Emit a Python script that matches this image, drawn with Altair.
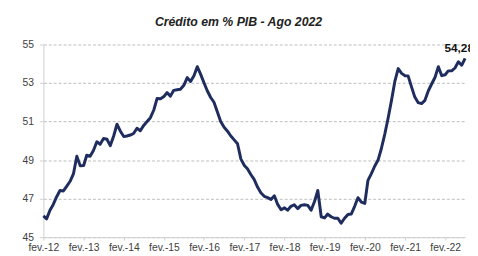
import altair as alt
import pandas as pd

# Crédito em % do PIB, mensal, fev/2012 a ago/2022
credit_values = [
    46.1, 45.95, 46.4, 46.7, 47.1, 47.42, 47.4, 47.65, 47.9, 48.3,
    49.2, 48.7, 48.72, 49.25, 49.2, 49.5, 49.95, 49.82, 50.12, 50.08,
    49.75, 50.25, 50.86, 50.5, 50.22, 50.25, 50.3, 50.38, 50.65, 50.52,
    50.8, 51.0, 51.2, 51.6, 52.2, 52.18, 52.3, 52.5, 52.32, 52.62,
    52.65, 52.68, 52.88, 53.28, 53.08, 53.38, 53.85, 53.45, 53.0, 52.6,
    52.25, 52.0, 51.5, 51.0, 50.7, 50.5, 50.25, 50.05, 49.85, 49.05,
    48.72, 48.55, 48.25, 48.0, 47.6, 47.3, 47.12, 47.05, 46.96, 47.15,
    46.7, 46.42, 46.52, 46.4, 46.6, 46.68, 46.48, 46.65, 46.68, 46.65,
    46.4, 46.85, 47.42, 46.06, 46.0, 46.2, 46.06, 45.98, 45.98, 45.72,
    45.98, 46.18, 46.2, 46.6, 47.05, 46.82, 46.75, 47.95, 48.3, 48.68,
    49.0, 49.6, 50.35, 51.2, 52.1, 53.1, 53.75, 53.5, 53.38, 53.37,
    52.8, 52.27, 51.98, 51.93, 52.1, 52.6, 52.95, 53.3, 53.85, 53.38,
    53.43, 53.63, 53.63, 53.78, 54.1, 53.92, 54.28,
]
start_month = "2012-02-01"
tick_years = list(range(2012, 2023))
y_ticks = [45, 47, 49, 51, 53, 55]
last_label = "54,28"
title_text = "Crédito em % PIB - Ago 2022"

months = pd.date_range(start_month, periods=len(credit_values), freq="MS")
df = pd.DataFrame({"mes": months.strftime("%Y-%m-%d"), "valor": credit_values})
last_df = df.tail(1).assign(rotulo=last_label)

FONT = "Liberation Sans"

x_enc = alt.X(
    "mes:T",
    scale=alt.Scale(domain=[months[0].strftime("%Y-%m-%d"), months[-1].strftime("%Y-%m-%d")], nice=False),
    axis=alt.Axis(
        title=None,
        values=[alt.DateTime(year=y, month=2, date=1) for y in tick_years],
        labelExpr="'fev.-' + timeFormat(datum.value, '%y')",
        grid=False,
        domainColor="#d0d0d0",
        tickColor="#d0d0d0",
        tickSize=3,
        labelPadding=3,
        labelFontSize=10.5,
        labelColor="#404040",
        labelFont=FONT,
        labelFlush=False,
        labelOverlap=False,
    ),
)
y_enc = alt.Y(
    "valor:Q",
    scale=alt.Scale(domain=[45, 55], nice=False, zero=False),
    axis=alt.Axis(
        title=None,
        values=y_ticks,
        grid=True,
        gridColor="#bdbdbd",
        gridDash=[3, 2],
        gridWidth=1,
        domainColor="#d0d0d0",
        tickColor="#d0d0d0",
        tickSize=4,
        labelPadding=6,
        labelFontSize=10.5,
        labelColor="#404040",
        labelFont=FONT,
        labelOverlap=False,
        labelBound=False,
    ),
)

line = alt.Chart(df).mark_line(color="#1f2d5e", strokeWidth=3, strokeJoin="round").encode(
    x=x_enc, y=y_enc
)

label = alt.Chart(last_df).mark_text(
    font=FONT, fontSize=12, fontWeight="bold", color="#111111", dx=-6, dy=-10, align="center"
).encode(x=x_enc, y=y_enc, text="rotulo:N")

chart = (
    alt.layer(line, label)
    .properties(
        width=429,
        height=196,
        title=alt.TitleParams(
            title_text,
            font=FONT,
            fontSize=12.5,
            fontStyle="italic",
            fontWeight="bold",
            color="#222222",
            anchor="middle",
            dx=-16,
            offset=11,
        ),
        autosize=alt.AutoSizeParams(type="none"),
        padding={"left": 36, "top": 35, "right": 5, "bottom": 14},
    )
    .configure_view(stroke=None)
)

chart.save("out.html", embed_options={"renderer": "svg", "actions": False})
